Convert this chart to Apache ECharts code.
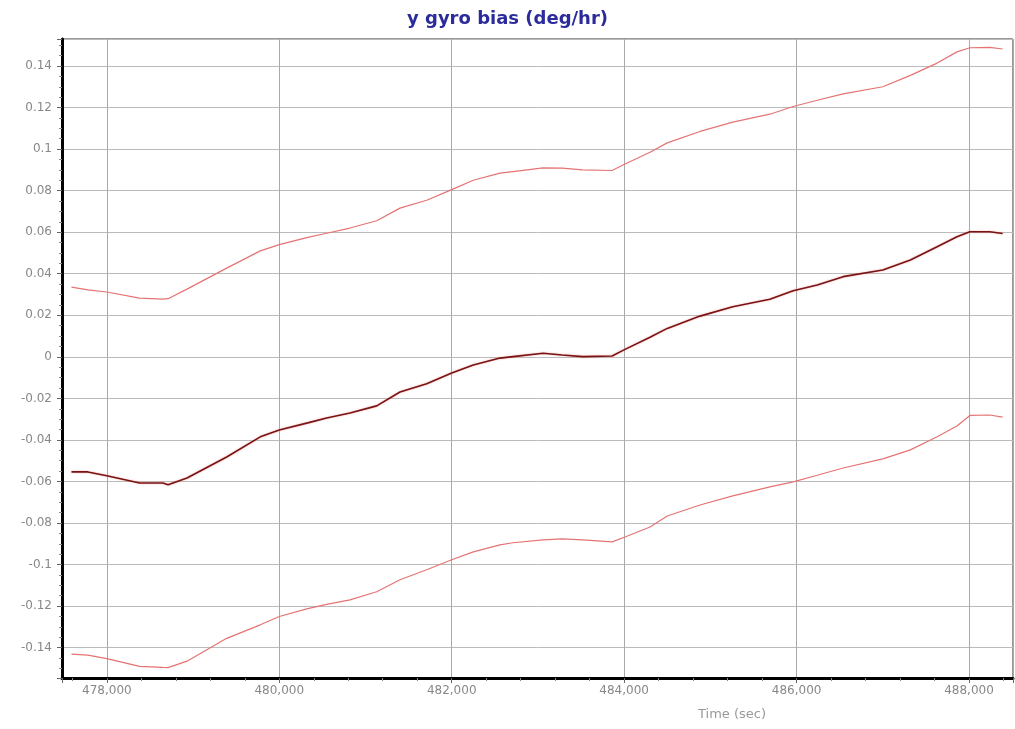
<!DOCTYPE html>
<html>
<head>
<meta charset="utf-8">
<script src="https://cdn.jsdelivr.net/npm/echarts@6/dist/echarts.min.js"></script>
<style>
html,body{margin:0;padding:0;background:#fff;}
#chart{width:1015px;height:729px;}
</style>
</head>
<body>
<div id="chart"></div>
<script>
const titleText = 'y gyro bias (deg/hr)';
const xAxisTitle = 'Time (sec)';

const timeSec = [477590, 477780, 478000, 478380, 478650, 478710, 478930, 479390, 479780, 480000,
  480330, 480550, 480820, 481130, 481400, 481710, 482000, 482250, 482560, 482710,
  483060, 483280, 483520, 483860, 484010, 484300, 484500, 484880, 485260, 485690,
  485960, 486240, 486540, 487000, 487320, 487630, 487860, 488010, 488240, 488390];

const biasEstimate = [-0.0554, -0.0554, -0.0572, -0.0607, -0.0607, -0.0616, -0.0583, -0.0482, -0.0385, -0.0352,
  -0.0318, -0.0294, -0.0270, -0.0236, -0.0169, -0.0130, -0.0078, -0.0039, -0.0006, 0.0001,
  0.0017, 0.0009, 0.0001, 0.0004, 0.0036, 0.0094, 0.0137, 0.0196, 0.0241, 0.0277,
  0.0318, 0.0346, 0.0386, 0.0418, 0.0466, 0.0530, 0.0578, 0.0602, 0.0602, 0.0594];

const upperBound = [0.0336, 0.0322, 0.0312, 0.0283, 0.0278, 0.0280, 0.0326, 0.0427, 0.0510, 0.0540,
  0.0575, 0.0595, 0.0620, 0.0655, 0.0716, 0.0754, 0.0805, 0.0850, 0.0884, 0.0892,
  0.0910, 0.0908, 0.0900, 0.0897, 0.0928, 0.0985, 0.1030, 0.1085, 0.1130, 0.1168,
  0.1205, 0.1235, 0.1266, 0.1300, 0.1355, 0.1414, 0.1468, 0.1488, 0.1490, 0.1482];

const lowerBound = [-0.1431, -0.1436, -0.1453, -0.1490, -0.1495, -0.1496, -0.1465, -0.1355, -0.1290, -0.1250,
  -0.1212, -0.1192, -0.1170, -0.1131, -0.1073, -0.1025, -0.0977, -0.0939, -0.0905, -0.0895,
  -0.0881, -0.0876, -0.0881, -0.0891, -0.0867, -0.0819, -0.0766, -0.0713, -0.0669, -0.0626,
  -0.0602, -0.0570, -0.0535, -0.0491, -0.0448, -0.0385, -0.0333, -0.0282, -0.0280, -0.0290];

const pairs = (ys) => timeSec.map((t, i) => [t, ys[i]]);

const chart = echarts.init(document.getElementById('chart'));
chart.setOption({
  animation: false,
  backgroundColor: '#ffffff',
  title: {
    text: titleText,
    left: 'center',
    top: 5,
    textStyle: { color: '#2b2b9c', fontFamily: 'DejaVu Sans', fontSize: 18, fontWeight: 'bold' }
  },
  graphic: [{
    type: 'text',
    left: 698,
    top: 708,
    style: { text: xAxisTitle, fill: '#999999', font: '13px "DejaVu Sans"' }
  }],
  grid: {
    left: 62, right: 2, top: 39, bottom: 51,
    show: true, borderColor: '#333333', borderWidth: 1, backgroundColor: '#ffffff'
  },
  xAxis: {
    type: 'value',
    min: 477480,
    max: 488510,
    splitNumber: 5,
    axisLine: { show: true, onZero: false, lineStyle: { color: '#000', width: 3 } },
    axisTick: { show: true, length: 5, lineStyle: { color: '#666' } },
    minorTick: { show: true, splitNumber: 5, length: 3, lineStyle: { color: '#888' } },
    axisLabel: {
      showMinLabel: false, showMaxLabel: false,
      color: '#888888', fontFamily: 'DejaVu Sans', fontSize: 12, margin: 7
    },
    splitLine: { show: true, lineStyle: { color: '#aaaaaa', width: 1 } }
  },
  yAxis: {
    type: 'value',
    min: -0.1546,
    max: 0.153,
    splitNumber: 15,
    axisLine: { show: true, onZero: false, lineStyle: { color: '#000', width: 3 } },
    axisTick: { show: true, length: 5, lineStyle: { color: '#666' } },
    minorTick: { show: true, splitNumber: 4, length: 3, lineStyle: { color: '#888' } },
    axisLabel: {
      showMinLabel: false, showMaxLabel: false,
      color: '#888888', fontFamily: 'DejaVu Sans', fontSize: 12, margin: 10
    },
    splitLine: { show: true, lineStyle: { color: '#bbbbbb', width: 1 } }
  },
  series: [
    {
      name: 'upper', type: 'line', data: pairs(upperBound), showSymbol: false, smooth: false,
      lineStyle: { color: '#e57373', width: 1.2 }
    },
    {
      name: 'lower', type: 'line', data: pairs(lowerBound), showSymbol: false, smooth: false,
      lineStyle: { color: '#e57373', width: 1.2 }
    },
    {
      name: 'estimate', type: 'line', data: pairs(biasEstimate), showSymbol: false, smooth: false,
      lineStyle: { color: '#7a1414', width: 1.6, shadowColor: 'rgba(230,120,120,0.6)', shadowBlur: 2 }
    }
  ]
});
</script>
</body>
</html>
